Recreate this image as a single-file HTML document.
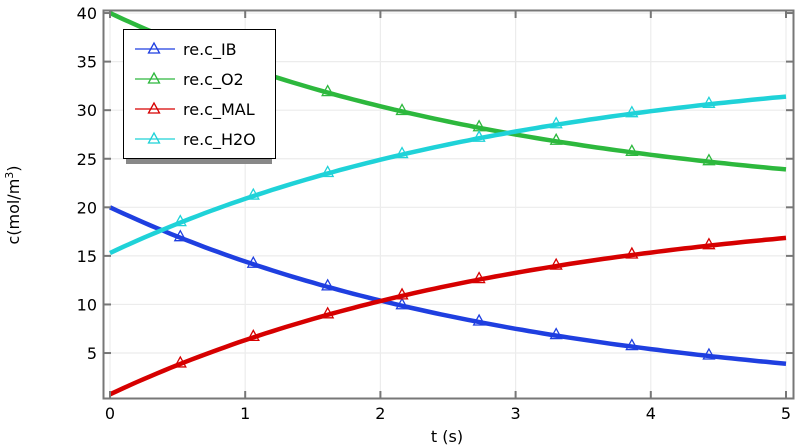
<!DOCTYPE html>
<html><head><meta charset="utf-8"><style>
body{margin:0;background:#fff;}
svg{display:block;font-family:"DejaVu Sans","Liberation Sans",sans-serif;}
</style></head><body>
<svg id="s" width="805" height="448" viewBox="0 0 805 448">
<rect width="805" height="448" fill="#fff"/>
<g id="grid" stroke="#ececec" stroke-width="1.2"></g>
<g id="curves" fill="none" stroke-width="4.5" stroke-linejoin="round"></g>
<g id="marks" fill="none" stroke-width="1.3"></g>
<rect x="103.5" y="10.5" width="690" height="388" fill="none" stroke="#777" stroke-width="2"/>
<g id="ticks" stroke="#777" stroke-width="2"></g>
<g id="labels" font-size="16" fill="#000"></g>
<text x="447" y="442" font-size="16" text-anchor="middle">t (s)</text>
<text transform="translate(19,205) rotate(-90)" font-size="16" text-anchor="middle">c(mol/m<tspan dy="-6" font-size="11">3</tspan><tspan dy="6">)</tspan></text>
<rect x="126" y="33" width="146" height="131" fill="#888"/>
<rect x="123.5" y="29.5" width="152" height="129" fill="#fff" stroke="#000" stroke-width="1"/>
<g id="leg" font-size="16"></g>
</svg>
<script>
var X=t=>110+135.2*t, Y=v=>401.6-9.714*v;
var ns="http://www.w3.org/2000/svg";
function el(g,tag,a,txt){var e=document.createElementNS(ns,tag);for(var k in a)e.setAttribute(k,a[k]);if(txt!=null)e.textContent=txt;document.getElementById(g).appendChild(e);return e;}
for(var i=0;i<=5;i++){el('grid','line',{x1:X(i),x2:X(i),y1:11,y2:398});el('ticks','line',{x1:X(i),x2:X(i),y1:398,y2:391});el('ticks','line',{x1:X(i),x2:X(i),y1:11,y2:18});
el('labels','text',{x:X(i),y:419,'text-anchor':'middle'},i);}
for(var v=5;v<=40;v+=5){el('grid','line',{x1:104,x2:793,y1:Y(v),y2:Y(v)});el('ticks','line',{x1:104,x2:111,y1:Y(v),y2:Y(v)});el('ticks','line',{x1:793,x2:786,y1:Y(v),y2:Y(v)});
el('labels','text',{x:97,y:Y(v)+6,'text-anchor':'end'},v);}
var IB=t=>20*Math.exp(-0.327*t);
var S=[["#1f3fe0",t=>IB(t),"re.c_IB"],["#2db83d",t=>20+IB(t),"re.c_O2"],["#d60000",t=>20.75-IB(t),"re.c_MAL"],["#1fd2d8",t=>35.3-IB(t),"re.c_H2O"]];
var mt=[0.52,1.06,1.61,2.16,2.73,3.3,3.86,4.43];
function tri(g,x,y,c){el(g,'path',{d:`M${x-5.5},${y+4}L${x},${y-6}L${x+5.5},${y+4}Z`,stroke:c,fill:'none','stroke-width':1.3});}
S.forEach(function(s,k){var d="";for(var i=0;i<=100;i++){var t=i*0.05;d+=(i?"L":"M")+X(t).toFixed(1)+","+Y(s[1](t)).toFixed(1);}
el('curves','path',{d:d,stroke:s[0]});
mt.forEach(t=>tri('marks',X(t),Y(s[1](t))-1,s[0]));
var ly=49+30*k;el('leg','line',{x1:135,x2:175,y1:ly,y2:ly,stroke:s[0],'stroke-width':1.3});tri('leg',154,ly,s[0]);
el('leg','text',{x:183,y:ly+6},s[2]);});
</script>
</body></html>
